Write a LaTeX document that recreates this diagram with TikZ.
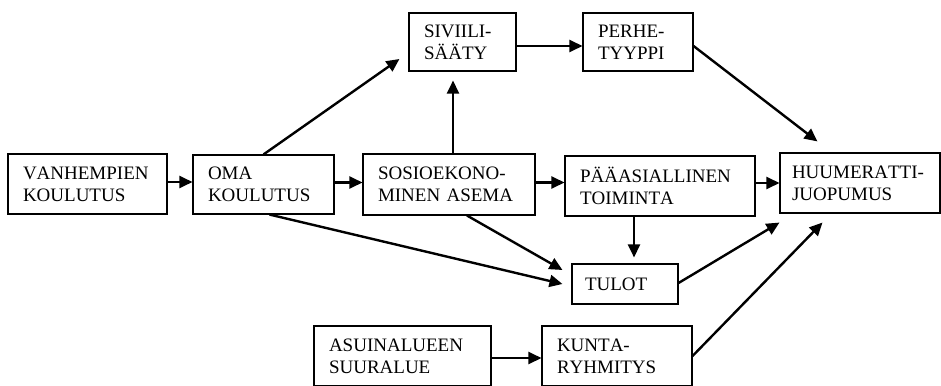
\documentclass[tikz,border=0pt]{standalone}
\usepackage{fontspec}
\setmainfont{Liberation Serif}[Kerning=Off]
\usetikzlibrary{arrows.meta,calc}
\begin{document}
\begin{tikzpicture}[x=1pt,y=-1pt,
  bx/.style={draw, line width=1.1pt, inner xsep=15pt, inner ysep=0pt, align=left,
    font=\fontsize{19}{21.7}\selectfont},
  arr/.style={line width=2.4pt, -{Triangle[length=13pt,width=12pt]}}]
\useasboundingbox (0,0) rectangle (941,385);
\node[bx, text width=129pt, minimum height=60pt] (vanh) at (87.5,184) {VANHEMPIEN\\KOULUTUS};
\node[bx, text width=111pt, minimum height=59pt] (oma) at (263.5,184.5) {OMA\\KOULUTUS};
\node[bx, text width=142pt, minimum height=61pt] (sosio) at (449,184.5) {SOSIOEKONO-\\MINEN ASEMA};
\node[bx, text width=160pt, minimum height=60pt] (paa) at (660,186) {PÄÄASIALLINEN\\TOIMINTA};
\node[bx, text width=136pt, inner xsep=12pt, minimum height=60pt] (huum) at (860,183) {HUUMERATTI-\\JUOPUMUS};
\node[bx, text width=77pt, minimum height=58pt] (sivi) at (462.5,42) {SIVIILI-\\SÄÄTY};
\node[bx, text width=80pt, minimum height=58pt] (perhe) at (638,42) {PERHE-\\TYYPPI};
\node[bx, text width=80pt, minimum height=40pt, inner xsep=13pt] (tulot) at (625,284) {TULOT};
\node[bx, text width=147pt, minimum height=60pt] (asuin) at (402.5,356) {ASUINALUEEN\\SUURALUE};
\node[bx, text width=120pt, minimum height=60pt] (kunta) at (617,356) {KUNTA-\\RYHMITYS};

\draw[arr] ([yshift=2pt]vanh.east) -- ([yshift=2pt]vanh.east -| oma.west);
\draw[arr] ([yshift=2pt]oma.east) -- ([yshift=2pt]oma.east -| sosio.west);
\draw[arr] ([yshift=2pt]sosio.east) -- ([yshift=2pt]sosio.east -| paa.west);
\draw[arr] (paa.east |- huum.west) -- (huum.west);
\draw[arr] ([yshift=-4pt]sivi.east) -- ([yshift=-4pt]sivi.east -| perhe.west);
\draw[arr] ([yshift=-2pt]asuin.east) -- ([yshift=-2pt]asuin.east -| kunta.west);
\draw[arr] (oma.north) -- ($(sivi.west)+(-9,17)$);
\draw[arr] ([xshift=4pt]sosio.north) -- ([xshift=4pt,yshift=-9pt]sosio.north |- sivi.south);
\draw[arr] ([yshift=-4pt]perhe.east) -- ($(huum.north west)+(38,-11)$);
\draw[arr] ([xshift=9pt]tulot.north |- paa.south) -- ([xshift=9pt,yshift=6pt]tulot.north);
\draw[arr] ([xshift=6pt]oma.south) -- ([xshift=-9pt]tulot.west);
\draw[arr] ([xshift=18pt]sosio.south) -- ([xshift=-9pt,yshift=14pt]tulot.west);
\draw[arr] ([yshift=1pt]tulot.east) -- ([yshift=-9pt]huum.south west);
\draw[arr] (kunta.east) -- ([xshift=43pt,yshift=-9pt]huum.south west);
\end{tikzpicture}
\end{document}
